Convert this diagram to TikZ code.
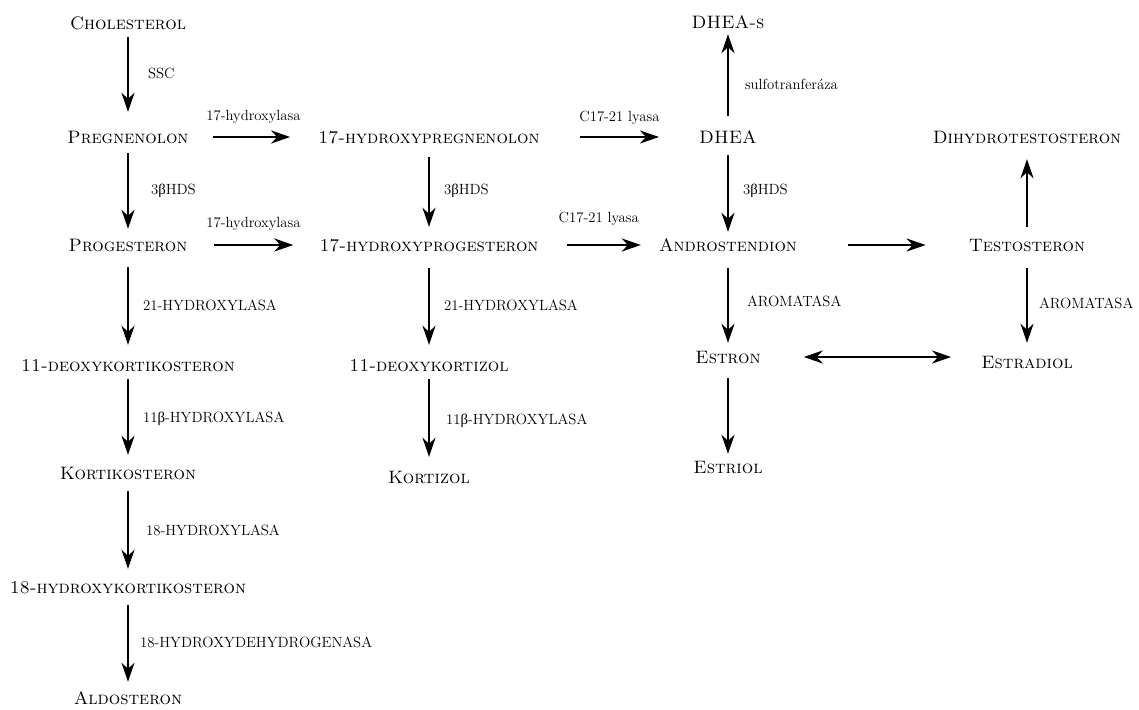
\documentclass[tikz,border=0pt]{standalone}
\usepackage{fontspec}
\usepackage{tikz}
\usetikzlibrary{arrows.meta}
\newfontfamily\recke{Liberation Serif}
\newcommand{\bet}{{\recke β}}

\begin{document}
\begin{tikzpicture}[x=1pt,y=-1pt,
    latka/.style={inner sep=0pt, text height=12pt, text depth=0pt,
                  font=\fontsize{18}{20}\selectfont\scshape},
    enzym/.style={inner sep=0pt, font=\fontsize{14.7}{16}\selectfont},
    enzymsc/.style={inner sep=0pt, font=\fontsize{14.8}{16}\selectfont},
    sipka/.style={line width=2pt, -{Stealth[length=19pt,width=13pt,inset=6pt]},
                  shorten <=12pt, shorten >=12pt},
    vodor/.style={sipka, line width=2.6pt}
    ]
  \useasboundingbox (0,0) rectangle (1139,709);

  % 1. sloupec
  \node[latka] (chol) at (128,24) {Cholesterol};
  \node[latka] (preg) at (128,137) {Pregnenolon};
  \node[latka] (prog) at (128,245) {Progesteron};
  \node[latka] (dkort) at (128,365) {11-deoxykortikosteron};
  \node[latka] (kort) at (128,473) {Kortikosteron};
  \node[latka] (ohkort) at (128,587) {18-hydroxykortikosteron};
  \node[latka] (aldo) at (128,698) {Aldosteron};

  % 2. sloupec
  \node[latka] (ohpreg) at (429,137) {17-hydroxypregnenolon};
  \node[latka] (ohprog) at (429,245) {17-hydroxyprogesteron};
  \node[latka] (dkortizol) at (429,365) {11-deoxykortizol};
  \node[latka] (kortizol) at (429,477) {Kortizol};

  % 3. sloupec
  \node[latka] (dheas) at (728,23) {DHEA-s};
  \node[latka] (dhea) at (728,137) {DHEA};
  \node[latka] (andro) at (728,245) {Androstendion};
  \node[latka] (estron) at (728,357) {Estron};
  \node[latka] (estriol) at (728,467) {Estriol};

  % 4. sloupec
  \node[latka] (dht) at (1027,137) {Dihydrotestosteron};
  \node[latka] (testo) at (1027,245) {Testosteron};
  \node[latka] (estradiol) at (1027,362) {Estradiol};

  % svisle sipky
  \draw[sipka, shorten <=7pt, shorten >=19pt] (chol) -- node[enzymsc, right=19pt, yshift=7pt] {SSC} (preg);
  \draw[sipka, shorten <=10pt, shorten >=10pt] (preg) -- node[enzymsc, right=22pt] {3\bet HDS} (prog);
  \draw[sipka, shorten <=16pt, shorten >=14pt] (prog) -- node[enzymsc, right=14pt] {21-HYDROXYLASA} (dkort);
  \draw[sipka, shorten <=8pt] (dkort) -- node[enzymsc, right=14pt] {11\bet-HYDROXYLASA} (kort);
  \draw[sipka] (kort) -- node[enzymsc, right=17pt] {18-HYDROXYLASA} (ohkort);
  \draw[sipka, shorten >=10pt] (ohkort) -- node[enzymsc, right=11pt] {18-HYDROXYDEHYDROGENASA} (aldo);

  \draw[sipka, shorten <=14pt] (ohpreg) -- node[enzymsc, right=14pt] {3\bet HDS} (ohprog);
  \draw[sipka, shorten <=17pt, shorten >=14pt] (ohprog) -- node[enzymsc, right=14pt] {21-HYDROXYLASA} (dkortizol);
  \draw[sipka, shorten <=8pt, shorten >=14pt] (dkortizol) -- node[enzymsc, right=16pt] {11\bet-HYDROXYLASA} (kortizol);

  \draw[sipka, shorten <=15pt, shorten >=5pt] (dhea) -- node[enzym, right=16pt, yshift=-4pt] {sulfotranferáza} (dheas);
  \draw[sipka, shorten >=7pt] (dhea) -- node[enzymsc, right=14pt] {3\bet HDS} (andro);
  \draw[sipka, shorten <=17pt, shorten >=8pt] (andro) -- node[enzymsc, right=18pt] {AROMATASA} (estron);
  \draw[sipka, shorten <=15pt, shorten >=7pt] (estron) -- (estriol);

  \draw[sipka, shorten >=16pt] (testo) -- (dht);
  \draw[sipka, shorten <=17pt, shorten >=13pt] (testo) -- node[enzymsc, right=11pt] {AROMATASA} (estradiol);

  % vodorovne sipky
  \draw[vodor, shorten <=24pt, shorten >=28pt] (preg.east) -- node[enzym, above=12pt] {17-hydroxylasa} (ohpreg.west);
  \draw[vodor, shorten <=26pt, shorten >=26pt] (prog.east) -- node[enzym, above=13pt] {17-hydroxylasa} (ohprog.west);
  \draw[vodor, shorten <=40pt, shorten >=40pt] (ohpreg.east) -- node[enzym, above=11pt] {C17-21 lyasa} (dhea.west);
  \draw[vodor, shorten <=28pt, shorten >=18pt] (ohprog.east) -- node[enzym, above=18pt] {C17-21 lyasa} (andro.west);
  \draw[vodor, shorten <=51pt, shorten >=43pt] (andro.east) -- (testo.west);
  \draw[vodor, {Stealth[length=19pt,width=13pt,inset=6pt]}-{Stealth[length=19pt,width=13pt,inset=6pt]},
        shorten <=43pt, shorten >=30pt] (estron.east) -- (estron.east -| estradiol.west);
\end{tikzpicture}
\end{document}
